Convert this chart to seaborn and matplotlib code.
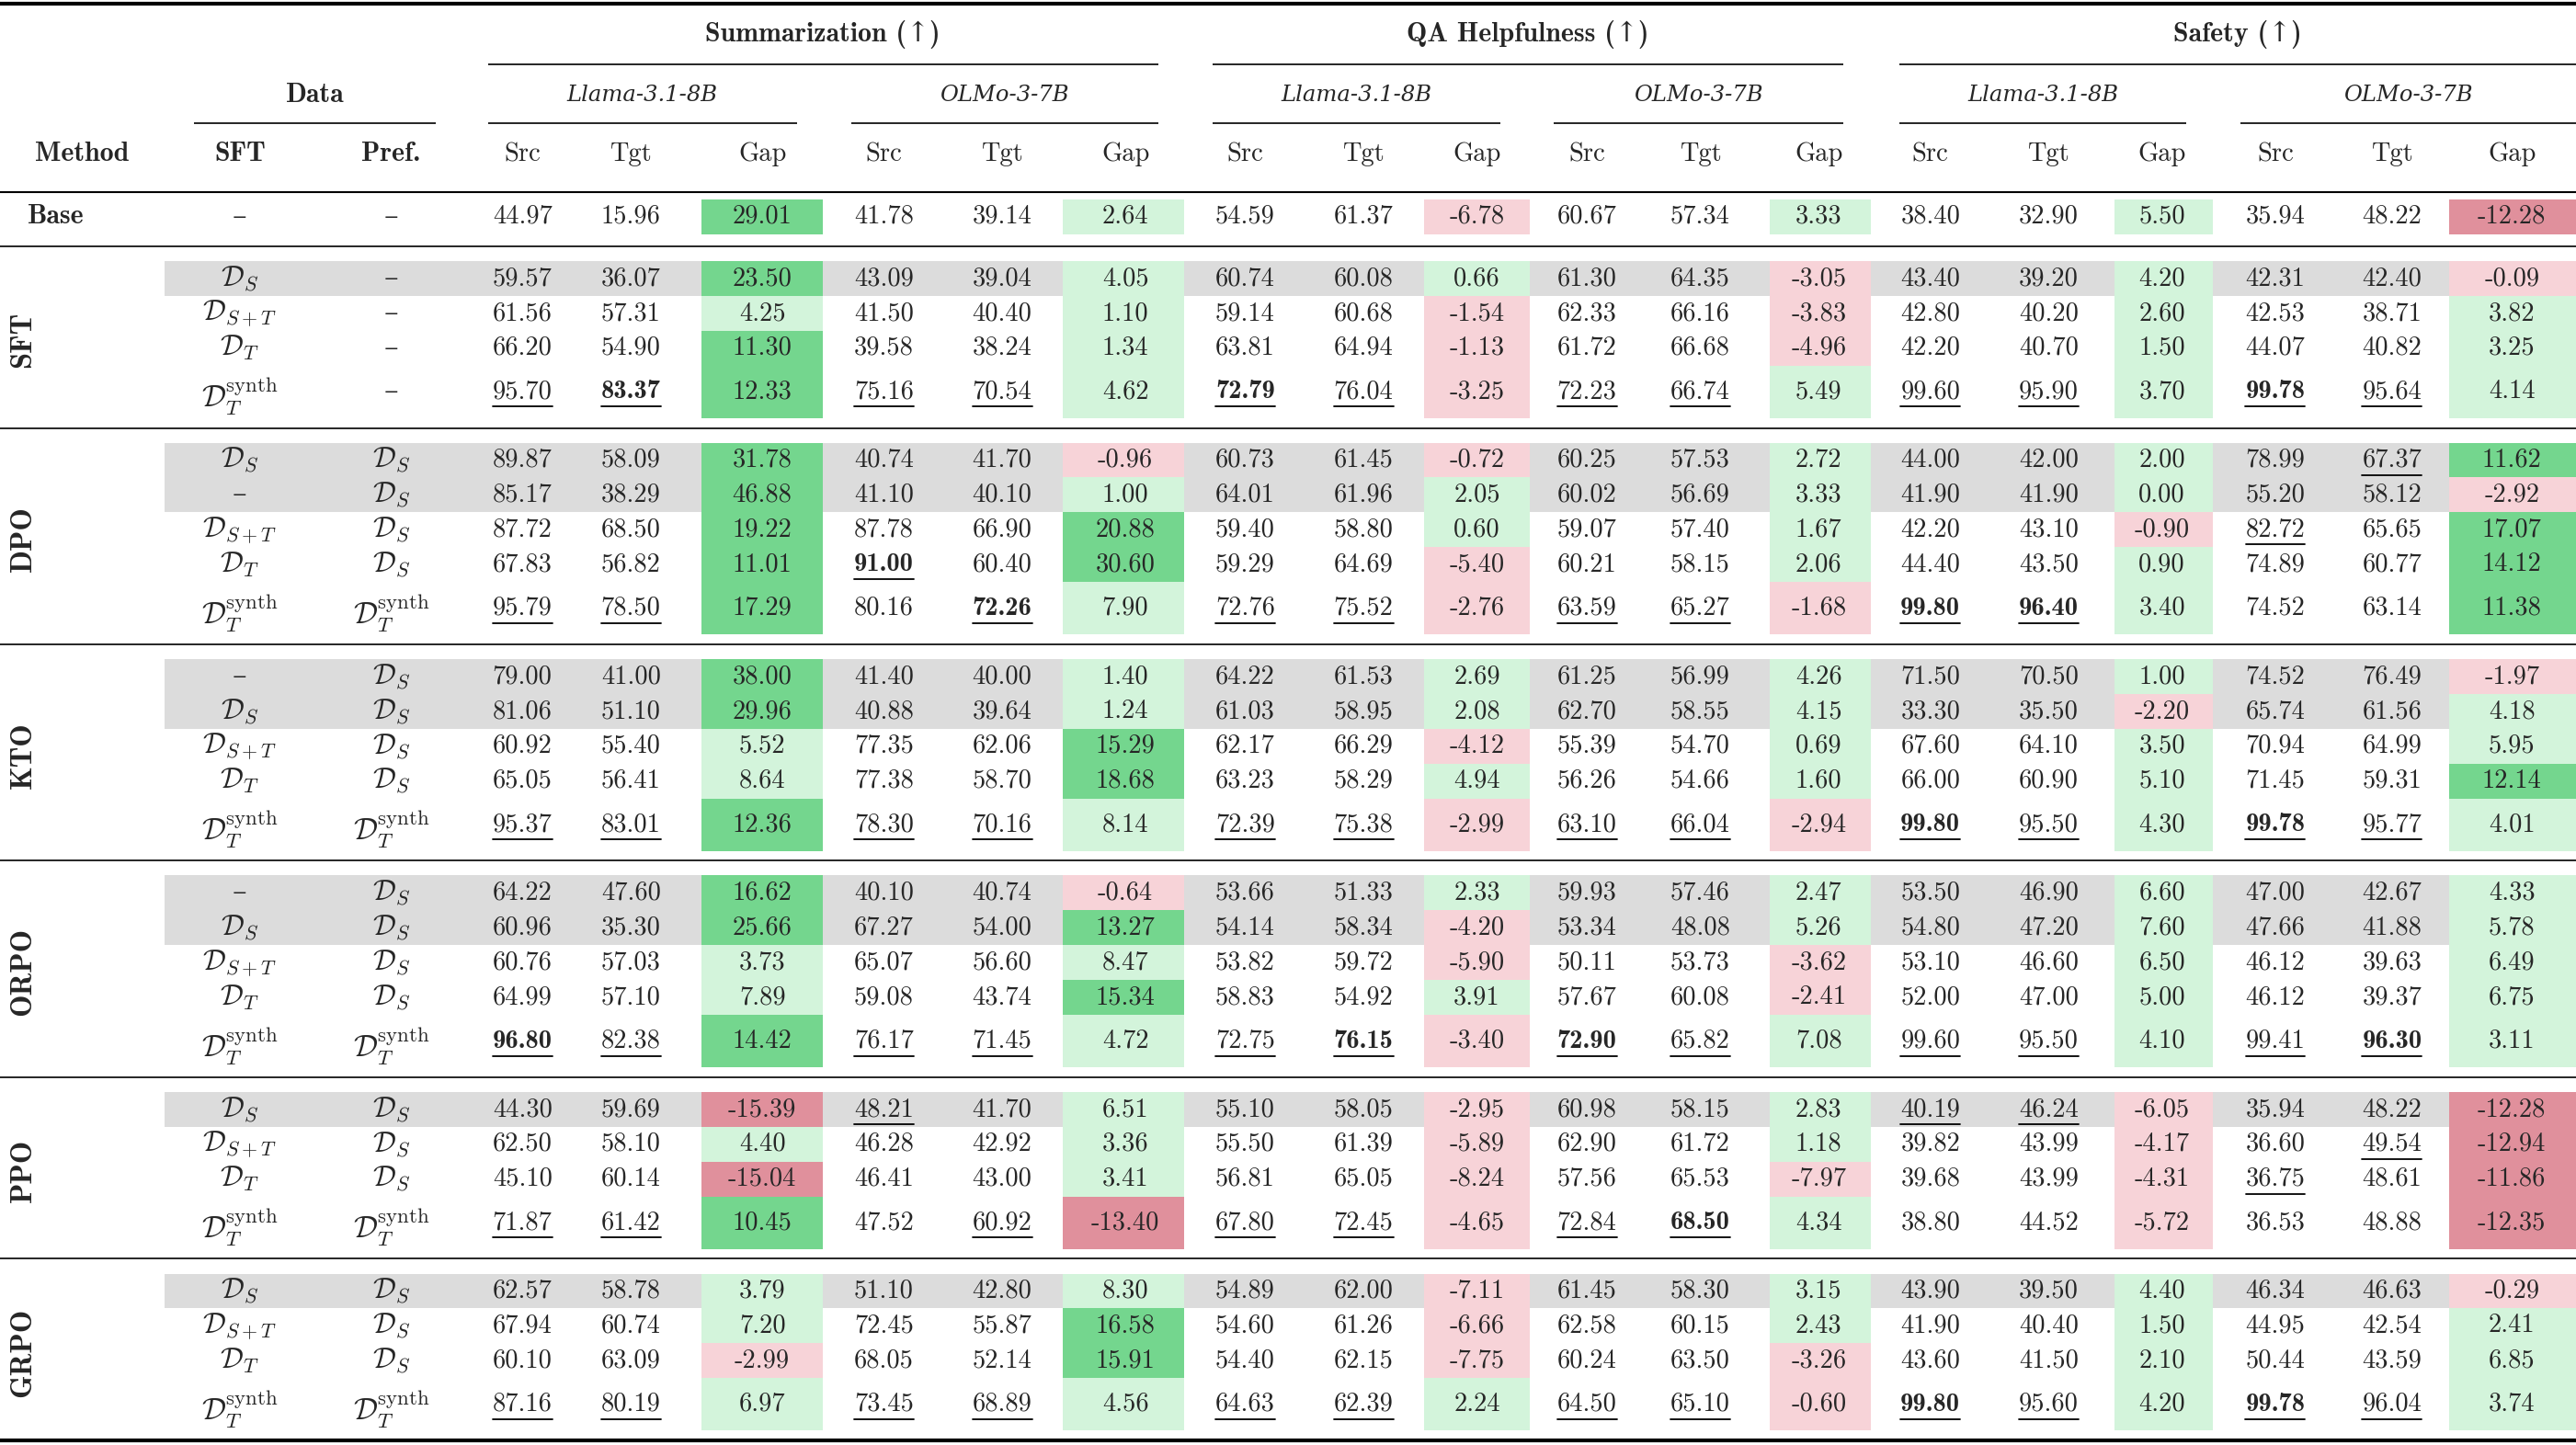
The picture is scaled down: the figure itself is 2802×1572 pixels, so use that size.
import matplotlib
matplotlib.use("Agg")
import matplotlib.pyplot as plt
import seaborn as sns
from matplotlib.patches import Rectangle

sns.set_theme(style="white")
plt.rcParams['font.family'] = ['cmr10', 'DejaVu Serif']
plt.rcParams['mathtext.fontset'] = 'cm'

# ---------------- data ----------------
GROUPS = ["Summarization (↑)", "QA Helpfulness (↑)", "Safety (↑)"]
MODELS = ["Llama-3.1-8B", "OLMo-3-7B"]
SUBCOLS = ["Src", "Tgt", "Gap"]
LABELS = {"S": r"$\mathcal{D}_S$", "ST": r"$\mathcal{D}_{S+T}$", "T": r"$\mathcal{D}_T$",
          "syn": r"$\mathcal{D}_T^{\mathrm{synth}}$", "-": "–"}

BASE = [44.97, 15.96, 29.01, 41.78, 39.14, 2.64, 54.59, 61.37, -6.78, 60.67, 57.34, 3.33, 38.40, 32.90, 5.50, 35.94, 48.22, -12.28]

SFT_ROWS = [
    ("S", "-", [59.57, 36.07, 23.50, 43.09, 39.04, 4.05, 60.74, 60.08, 0.66, 61.30, 64.35, -3.05, 43.40, 39.20, 4.20, 42.31, 42.40, -0.09], "..................", True),
    ("ST", "-", [61.56, 57.31, 4.25, 41.50, 40.40, 1.10, 59.14, 60.68, -1.54, 62.33, 66.16, -3.83, 42.80, 40.20, 2.60, 42.53, 38.71, 3.82], "..................", False),
    ("T", "-", [66.20, 54.90, 11.30, 39.58, 38.24, 1.34, 63.81, 64.94, -1.13, 61.72, 66.68, -4.96, 42.20, 40.70, 1.50, 44.07, 40.82, 3.25], "..................", False),
    ("syn", "-", [95.70, 83.37, 12.33, 75.16, 70.54, 4.62, 72.79, 76.04, -3.25, 72.23, 66.74, 5.49, 99.60, 95.90, 3.70, 99.78, 95.64, 4.14], "uB.uu.Bu.uu.uu.Bu.", False),
]
DPO_ROWS = [
    ("S", "S", [89.87, 58.09, 31.78, 40.74, 41.70, -0.96, 60.73, 61.45, -0.72, 60.25, 57.53, 2.72, 44.00, 42.00, 2.00, 78.99, 67.37, 11.62], "................u.", True),
    ("-", "S", [85.17, 38.29, 46.88, 41.10, 40.10, 1.00, 64.01, 61.96, 2.05, 60.02, 56.69, 3.33, 41.90, 41.90, 0.00, 55.20, 58.12, -2.92], "..................", True),
    ("ST", "S", [87.72, 68.50, 19.22, 87.78, 66.90, 20.88, 59.40, 58.80, 0.60, 59.07, 57.40, 1.67, 42.20, 43.10, -0.90, 82.72, 65.65, 17.07], "...............u..", False),
    ("T", "S", [67.83, 56.82, 11.01, 91.00, 60.40, 30.60, 59.29, 64.69, -5.40, 60.21, 58.15, 2.06, 44.40, 43.50, 0.90, 74.89, 60.77, 14.12], "...B..............", False),
    ("syn", "syn", [95.79, 78.50, 17.29, 80.16, 72.26, 7.90, 72.76, 75.52, -2.76, 63.59, 65.27, -1.68, 99.80, 96.40, 3.40, 74.52, 63.14, 11.38], "uu..B.uu.uu.BB....", False),
]
KTO_ROWS = [
    ("-", "S", [79.00, 41.00, 38.00, 41.40, 40.00, 1.40, 64.22, 61.53, 2.69, 61.25, 56.99, 4.26, 71.50, 70.50, 1.00, 74.52, 76.49, -1.97], "..................", True),
    ("S", "S", [81.06, 51.10, 29.96, 40.88, 39.64, 1.24, 61.03, 58.95, 2.08, 62.70, 58.55, 4.15, 33.30, 35.50, -2.20, 65.74, 61.56, 4.18], "..................", True),
    ("ST", "S", [60.92, 55.40, 5.52, 77.35, 62.06, 15.29, 62.17, 66.29, -4.12, 55.39, 54.70, 0.69, 67.60, 64.10, 3.50, 70.94, 64.99, 5.95], "..................", False),
    ("T", "S", [65.05, 56.41, 8.64, 77.38, 58.70, 18.68, 63.23, 58.29, 4.94, 56.26, 54.66, 1.60, 66.00, 60.90, 5.10, 71.45, 59.31, 12.14], "..................", False),
    ("syn", "syn", [95.37, 83.01, 12.36, 78.30, 70.16, 8.14, 72.39, 75.38, -2.99, 63.10, 66.04, -2.94, 99.80, 95.50, 4.30, 99.78, 95.77, 4.01], "uu.uu.uu.uu.Bu.Bu.", False),
]
ORPO_ROWS = [
    ("-", "S", [64.22, 47.60, 16.62, 40.10, 40.74, -0.64, 53.66, 51.33, 2.33, 59.93, 57.46, 2.47, 53.50, 46.90, 6.60, 47.00, 42.67, 4.33], "..................", True),
    ("S", "S", [60.96, 35.30, 25.66, 67.27, 54.00, 13.27, 54.14, 58.34, -4.20, 53.34, 48.08, 5.26, 54.80, 47.20, 7.60, 47.66, 41.88, 5.78], "..................", True),
    ("ST", "S", [60.76, 57.03, 3.73, 65.07, 56.60, 8.47, 53.82, 59.72, -5.90, 50.11, 53.73, -3.62, 53.10, 46.60, 6.50, 46.12, 39.63, 6.49], "..................", False),
    ("T", "S", [64.99, 57.10, 7.89, 59.08, 43.74, 15.34, 58.83, 54.92, 3.91, 57.67, 60.08, -2.41, 52.00, 47.00, 5.00, 46.12, 39.37, 6.75], "..................", False),
    ("syn", "syn", [96.80, 82.38, 14.42, 76.17, 71.45, 4.72, 72.75, 76.15, -3.40, 72.90, 65.82, 7.08, 99.60, 95.50, 4.10, 99.41, 96.30, 3.11], "Bu.uu.uB.Bu.uu.uB.", False),
]
PPO_ROWS = [
    ("S", "S", [44.30, 59.69, -15.39, 48.21, 41.70, 6.51, 55.10, 58.05, -2.95, 60.98, 58.15, 2.83, 40.19, 46.24, -6.05, 35.94, 48.22, -12.28], "...u........uu....", True),
    ("ST", "S", [62.50, 58.10, 4.40, 46.28, 42.92, 3.36, 55.50, 61.39, -5.89, 62.90, 61.72, 1.18, 39.82, 43.99, -4.17, 36.60, 49.54, -12.94], "................u.", False),
    ("T", "S", [45.10, 60.14, -15.04, 46.41, 43.00, 3.41, 56.81, 65.05, -8.24, 57.56, 65.53, -7.97, 39.68, 43.99, -4.31, 36.75, 48.61, -11.86], "...............u..", False),
    ("syn", "syn", [71.87, 61.42, 10.45, 47.52, 60.92, -13.40, 67.80, 72.45, -4.65, 72.84, 68.50, 4.34, 38.80, 44.52, -5.72, 36.53, 48.88, -12.35], "uu..u.uu.uB.......", False),
]
GRPO_ROWS = [
    ("S", "S", [62.57, 58.78, 3.79, 51.10, 42.80, 8.30, 54.89, 62.00, -7.11, 61.45, 58.30, 3.15, 43.90, 39.50, 4.40, 46.34, 46.63, -0.29], "..................", True),
    ("ST", "S", [67.94, 60.74, 7.20, 72.45, 55.87, 16.58, 54.60, 61.26, -6.66, 62.58, 60.15, 2.43, 41.90, 40.40, 1.50, 44.95, 42.54, 2.41], "..................", False),
    ("T", "S", [60.10, 63.09, -2.99, 68.05, 52.14, 15.91, 54.40, 62.15, -7.75, 60.24, 63.50, -3.26, 43.60, 41.50, 2.10, 50.44, 43.59, 6.85], "..................", False),
    ("syn", "syn", [87.16, 80.19, 6.97, 73.45, 68.89, 4.56, 64.63, 62.39, 2.24, 64.50, 65.10, -0.60, 99.80, 95.60, 4.20, 99.78, 96.04, 3.74], "uu.uu.uu.uu.Bu.Bu.", False),
]
SECTIONS = [("SFT", SFT_ROWS), ("DPO", DPO_ROWS), ("KTO", KTO_ROWS),
            ("ORPO", ORPO_ROWS), ("PPO", PPO_ROWS), ("GRPO", GRPO_ROWS)]

# ---------------- layout ----------------
W, H = 1568, 880
fig = plt.figure(figsize=(28.02, 15.72), dpi=100)
ax = fig.add_axes([0, 0, 1, 1])
ax.set_xlim(0, W)
ax.set_ylim(H, 0)
ax.axis("off")

FS = 20.5
XC = [318, 384, 464, 538, 610, 685, 758, 830, 899, 966, 1035, 1107, 1175, 1247, 1316, 1385, 1456, 1529]
GAPSPAN = {2: (427, 501), 5: (647, 721), 8: (867, 931), 11: (1077, 1139), 14: (1287, 1347), 17: (1491, 1568)}
X_SFT, X_PREF = 146, 238
BOLD = ['cmb10', 'DejaVu Serif']

greens = sns.blend_palette(["#d3f4db", "#74d68e"], 2)
reds = sns.blend_palette(["#f7d3d8", "#e0909c"], 2)

def gap_color(v):
    if v >= 0:
        return greens[1] if v >= 10 else greens[0]
    return reds[1] if v <= -10 else reds[0]

def hline(y, x0, x1, lw):
    ax.plot([x0, x1], [y, y], color="black", lw=lw, solid_capstyle="butt")

underlined = []

def draw_row(yc, h, sft, pref, vals, marks, grey):
    if grey:
        ax.add_patch(Rectangle((100, yc - h / 2), W - 100, h, color="#dcdcdc", lw=0, zorder=0))
    for i, v in enumerate(vals):
        if i in GAPSPAN:
            x0, x1 = GAPSPAN[i]
            ax.add_patch(Rectangle((x0, yc - h / 2), x1 - x0, h, color=gap_color(v), lw=0, zorder=1))
        m = marks[i]
        fam = BOLD if m == "B" else ['cmr10', 'DejaVu Serif']
        t = ax.text(XC[i], yc, f"{v:.2f}", ha="center", va="center", fontsize=FS, family=fam, zorder=3)
        if m in "uB":
            underlined.append((t, yc))
    for x, key in ((X_SFT, sft), (X_PREF, pref)):
        ax.text(x, yc + (3 if key == "syn" else 0), LABELS[key], ha="center", va="center",
                fontsize=FS + 3 if key == "syn" else FS + 2, zorder=3)

# headers
hline(2, 0, W, 3)
gspans = [(297, 705), (738, 1122), (1156, 1568)]
for g, (a, b) in zip(GROUPS, gspans):
    ax.text((a + b) / 2, 21, g, ha="center", va="center", fontsize=FS + 1, family=BOLD)
    hline(39, a, b, 1.2)
mspans = [(297, 485), (518, 705), (738, 913), (946, 1122), (1156, 1331), (1364, 1568)]
for k, (a, b) in enumerate(mspans):
    ax.text((a + b) / 2, 58, MODELS[k % 2], ha="center", va="center", fontsize=FS - 3,
            family="DejaVu Serif", style="italic")
    hline(75, a, b, 1.2)
ax.text(192, 58, "Data", ha="center", va="center", fontsize=FS + 1, family=BOLD)
hline(75, 118, 265, 1.2)
for txt, x in (("Method", 50), ("SFT", X_SFT), ("Pref.", X_PREF)):
    ax.text(x, 94, txt, ha="center", va="center", fontsize=FS + 1, family=BOLD)
for i, x in enumerate(XC):
    ax.text(x, 94, SUBCOLS[i % 3], ha="center", va="center", fontsize=FS)
hline(117, 0, W, 1.5)

# base row
ax.text(34, 132, "Base", ha="center", va="center", fontsize=FS + 1, family=BOLD)
draw_row(132, 21.5, "-", "-", BASE, "." * 18, False)
hline(150, 0, W, 1.2)

RH, SH = 21.2, 32
y = 150
for si, (name, rows) in enumerate(SECTIONS):
    top = y + 9
    cur = top
    for (sft, pref, vals, marks, grey) in rows:
        h = SH if sft == "syn" else RH
        draw_row(cur + h / 2, h, sft, pref, vals, marks, grey)
        cur += h
    ax.text(14, (top + cur) / 2, name, ha="center", va="center", rotation=90,
            fontsize=FS + 3, family=BOLD)
    y = cur + 6
    hline(y, 0, W, 3 if si == len(SECTIONS) - 1 else 1.2)

# underlines
fig.canvas.draw()
r = fig.canvas.get_renderer()
inv = ax.transData.inverted()
for t, yc in underlined:
    bb = t.get_window_extent(r)
    (x0, _), (x1, _) = inv.transform([(bb.x0, bb.y0), (bb.x1, bb.y1)])
    ax.plot([x0, x1], [yc + 9, yc + 9], color="black", lw=1.3, zorder=4)

fig.savefig("out.png", dpi=100, facecolor="white")
